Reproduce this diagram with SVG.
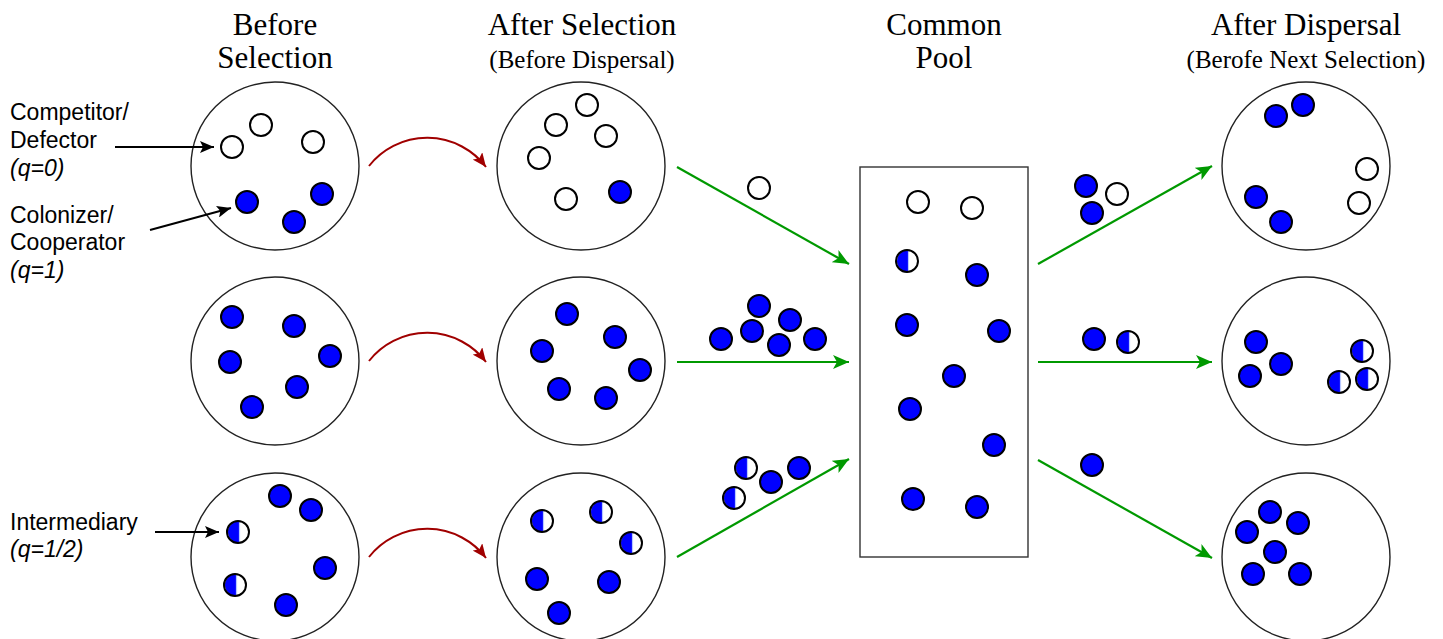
<svg xmlns="http://www.w3.org/2000/svg" xmlns:xlink="http://www.w3.org/1999/xlink" width="1443" height="639" viewBox="0 0 1443 639">
<style>
.title{font-family:"Liberation Serif","Times New Roman",serif;font-size:31px;fill:#000;text-anchor:middle}
.sub{font-family:"Liberation Serif","Times New Roman",serif;font-size:25px;fill:#000;text-anchor:middle}
.lbl{font-family:"Liberation Sans",Arial,sans-serif;font-size:23px;fill:#000}
.it{font-style:italic}
.big{fill:#fff;stroke:#222;stroke-width:1.4}
.pool{fill:#fff;stroke:#333;stroke-width:1.4}
.g{fill:none;stroke:#009900;stroke-width:2.2}
.r{fill:none;stroke:#a00000;stroke-width:2}
.k{fill:none;stroke:#000;stroke-width:2}
</style>
<defs>
<marker id="mg" markerUnits="userSpaceOnUse" markerWidth="18" markerHeight="14" refX="16" refY="7" orient="auto"><path d="M0,0 L16,7 L0,14 L4,7 Z" fill="#009900"/></marker>
<marker id="mr" markerUnits="userSpaceOnUse" markerWidth="16" markerHeight="12" refX="14" refY="6" orient="auto"><path d="M0,0 L14,6 L0,12 L3,6 Z" fill="#a00000"/></marker>
<marker id="mk" markerUnits="userSpaceOnUse" markerWidth="16" markerHeight="12" refX="14" refY="6" orient="auto"><path d="M0,0 L14,6 L0,12 L3,6 Z" fill="#000"/></marker>
<circle id="b" r="11" fill="#0000ff" stroke="#000" stroke-width="2"/>
<circle id="w" r="11" fill="#fff" stroke="#000" stroke-width="2"/>
<g id="h"><circle r="11" fill="#fff"/><path d="M1,-11 A11,11 0 0 0 1,11 Z" fill="#0000ff"/><line x1="1.5" y1="-10" x2="1.5" y2="10" stroke="#b8c8ff" stroke-width="1.2"/><circle r="11" fill="none" stroke="#000" stroke-width="2"/></g>
</defs>
<rect width="1443" height="639" fill="#fff"/>

<g id="headers">
<text class="title" x="275" y="35">Before</text>
<text class="title" x="275" y="68">Selection</text>
<text class="title" x="582" y="35">After Selection</text>
<text class="sub" x="582" y="68">(Before Dispersal)</text>
<text class="title" x="944" y="35">Common</text>
<text class="title" x="944" y="68">Pool</text>
<text class="title" x="1306" y="35">After Dispersal</text>
<text class="sub" x="1306" y="68">(Berofe Next Selection)</text>
</g>

<g id="labels">
<text class="lbl" x="10" y="120">Competitor/</text>
<text class="lbl" x="10" y="148">Defector</text>
<text class="lbl it" x="10" y="176">(q=0)</text>
<text class="lbl" x="10" y="223">Colonizer/</text>
<text class="lbl" x="10" y="250">Cooperator</text>
<text class="lbl it" x="10" y="278">(q=1)</text>
<text class="lbl" x="10" y="530">Intermediary</text>
<text class="lbl it" x="10" y="557">(q=1/2)</text>
</g>

<g id="before-1">
<circle class="big" cx="275" cy="166" r="84"/>
<use href="#w" x="232" y="147"/><use href="#w" x="261" y="125"/><use href="#w" x="313" y="142"/>
<use href="#b" x="247" y="202"/><use href="#b" x="294" y="222"/><use href="#b" x="322" y="194"/>
</g>
<g id="before-2">
<circle class="big" cx="275" cy="361" r="84"/>
<use href="#b" x="232" y="317"/><use href="#b" x="294" y="326"/><use href="#b" x="230" y="362"/>
<use href="#b" x="330" y="356"/><use href="#b" x="297" y="387"/><use href="#b" x="252" y="407"/>
</g>
<g id="before-3">
<circle class="big" cx="275" cy="557" r="84"/>
<use href="#b" x="280" y="496"/><use href="#b" x="311" y="510"/><use href="#h" x="238" y="532"/>
<use href="#h" x="235" y="585"/><use href="#b" x="325" y="568"/><use href="#b" x="286" y="605"/>
</g>

<g id="after-sel-1">
<circle class="big" cx="581" cy="166" r="84"/>
<use href="#w" x="587" y="105"/><use href="#w" x="556" y="125"/><use href="#w" x="606" y="136"/>
<use href="#w" x="539" y="158"/><use href="#w" x="566" y="199"/><use href="#b" x="620" y="192"/>
</g>
<g id="after-sel-2">
<circle class="big" cx="581" cy="361" r="84"/>
<use href="#b" x="567" y="314"/><use href="#b" x="615" y="337"/><use href="#b" x="542" y="351"/>
<use href="#b" x="640" y="370"/><use href="#b" x="559" y="389"/><use href="#b" x="606" y="398"/>
</g>
<g id="after-sel-3">
<circle class="big" cx="581" cy="557" r="84"/>
<use href="#h" x="542" y="521"/><use href="#h" x="601" y="512"/><use href="#h" x="631" y="543"/>
<use href="#b" x="537" y="579"/><use href="#b" x="609" y="582"/><use href="#b" x="559" y="613"/>
</g>

<g id="migrants-in">
<use href="#w" x="759" y="188"/>
<use href="#b" x="759" y="306"/><use href="#b" x="790" y="320"/><use href="#b" x="752" y="331"/>
<use href="#b" x="721" y="339"/><use href="#b" x="779" y="345"/><use href="#b" x="815" y="339"/>
<use href="#h" x="746" y="468"/><use href="#b" x="771" y="482"/><use href="#b" x="799" y="468"/><use href="#h" x="734" y="498"/>
</g>

<g id="pool">
<rect class="pool" x="860" y="167" width="168" height="390"/>
<use href="#w" x="918" y="202"/><use href="#w" x="972" y="208"/>
<use href="#h" x="907" y="261"/><use href="#b" x="977" y="275"/>
<use href="#b" x="907" y="325"/><use href="#b" x="999" y="331"/>
<use href="#b" x="954" y="376"/><use href="#b" x="910" y="409"/>
<use href="#b" x="994" y="445"/><use href="#b" x="913" y="499"/><use href="#b" x="977" y="507"/>
</g>

<g id="migrants-out">
<use href="#b" x="1086" y="186"/><use href="#b" x="1092" y="213"/><use href="#w" x="1117" y="194"/>
<use href="#b" x="1094" y="339"/><use href="#h" x="1128" y="342"/>
<use href="#b" x="1092" y="465"/>
</g>

<g id="after-disp-1">
<circle class="big" cx="1306" cy="166" r="84"/>
<use href="#b" x="1276" y="116"/><use href="#b" x="1303" y="105"/><use href="#w" x="1367" y="169"/>
<use href="#w" x="1359" y="203"/><use href="#b" x="1256" y="197"/><use href="#b" x="1281" y="222"/>
</g>
<g id="after-disp-2">
<circle class="big" cx="1306" cy="361" r="84"/>
<use href="#b" x="1256" y="342"/><use href="#b" x="1281" y="364"/><use href="#b" x="1250" y="376"/>
<use href="#h" x="1362" y="351"/><use href="#h" x="1339" y="382"/><use href="#h" x="1367" y="379"/>
</g>
<g id="after-disp-3">
<circle class="big" cx="1306" cy="557" r="84"/>
<use href="#b" x="1270" y="512"/><use href="#b" x="1298" y="523"/><use href="#b" x="1247" y="532"/>
<use href="#b" x="1275" y="552"/><use href="#b" x="1253" y="574"/><use href="#b" x="1300" y="574"/>
</g>

<g id="connectors">
<line class="k" x1="115" y1="147" x2="214" y2="147" marker-end="url(#mk)"/>
<line class="k" x1="150" y1="230" x2="231" y2="208" marker-end="url(#mk)"/>
<line class="k" x1="155" y1="532" x2="219" y2="532" marker-end="url(#mk)"/>
<path class="r" d="M369,166 A74,74 0 0 1 486,167" marker-end="url(#mr)"/>
<path class="r" d="M369,361 A74,74 0 0 1 486,362" marker-end="url(#mr)"/>
<path class="r" d="M369,557 A74,74 0 0 1 486,558" marker-end="url(#mr)"/>
<line class="g" x1="677" y1="167" x2="849" y2="264" marker-end="url(#mg)"/>
<line class="g" x1="677" y1="362" x2="849" y2="362" marker-end="url(#mg)"/>
<line class="g" x1="677" y1="557" x2="849" y2="459" marker-end="url(#mg)"/>
<line class="g" x1="1038" y1="264" x2="1212" y2="166" marker-end="url(#mg)"/>
<line class="g" x1="1038" y1="362" x2="1212" y2="362" marker-end="url(#mg)"/>
<line class="g" x1="1038" y1="460" x2="1212" y2="558" marker-end="url(#mg)"/>
</g>
</svg>
